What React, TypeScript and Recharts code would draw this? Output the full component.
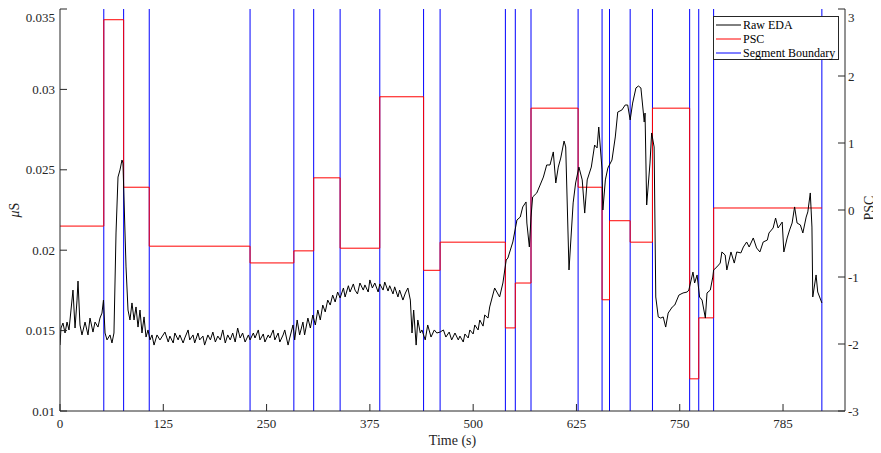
import React from 'react';
import { ComposedChart, Line, XAxis, YAxis, ReferenceLine, Legend, Label } from 'recharts';

// Raw EDA trace (time in s, conductance in µS)
const edaTime = [
  0, 1.2, 3.6, 6.1, 8.5, 10.9, 13.3, 15.7, 18.2, 20.6, 21.8, 24.2, 26.6, 30.3, 33.9, 36.3, 39.9, 42.4, 46.0, 48.4,
  50.8, 52.6, 54.5, 56.9, 60.5, 62.9, 65.3, 67.8, 70.2, 72.6, 75.0, 76.2, 77.5, 79.9, 82.3, 84.7, 87.1, 89.6, 92.0, 94.4,
  96.8, 99.2, 101.7, 104.1, 106.5, 108.9, 111.3, 113.8, 117.4, 121.0, 127, 131, 133, 137, 139, 143, 145, 149, 151, 155,
  157, 161, 163, 167, 169, 173, 175, 179, 182, 185, 188, 191, 194, 197, 200, 203, 206, 209, 212, 215,
  218, 221, 224, 228, 230, 234, 236, 240, 242, 246, 248, 252, 254, 258, 260, 264, 266, 270, 272, 276,
  278, 282, 284, 287, 290, 294, 296, 300, 303, 306, 309, 312, 315, 318, 321, 324, 327, 330, 333, 336,
  339, 343, 345, 349, 351, 355, 357, 360, 363, 367, 369, 373, 375, 378, 381, 385, 387, 391, 393, 397,
  399, 403, 405, 409, 411, 415, 418, 421, 424, 426, 428, 431, 433, 436, 438, 442, 445, 449, 453, 456,
  460, 464, 467, 471, 474, 478, 482, 484, 488, 490, 494, 496, 500, 502, 506, 508, 512, 514, 518, 520,
  526, 532, 536, 540, 542, 548, 553, 557, 560, 564, 565, 568, 570, 572, 577, 581, 585, 589, 593, 597,
  600, 603, 606, 610, 612, 616, 621, 624, 628, 632, 635, 638, 643, 647, 650, 652, 656, 657, 660, 663,
  668, 672, 675, 680, 684, 687, 690, 693, 697, 700, 703, 706, 707, 708, 710, 714, 716, 719, 721, 724,
  727, 730, 733, 736, 741, 744, 749, 754, 759, 761, 766, 768, 771, 774, 777, 781, 783, 787, 790, 791,
  795, 799, 801, 805, 807, 812, 816, 819, 824, 827, 831, 834, 839, 843, 847, 851, 856, 858, 863, 866,
  869, 874, 876, 880, 883, 886, 889, 892, 896, 899, 903, 905, 908, 910, 911, 915, 917, 922,
];
const edaValues = [
  0.01410, 0.01516, 0.01547, 0.01485, 0.01553, 0.01504, 0.01628, 0.01752, 0.01516, 0.01690, 0.01808, 0.01535, 0.01473, 0.01553, 0.01473, 0.01578, 0.01491, 0.01553, 0.01522, 0.01578,
  0.01609, 0.01690, 0.01485, 0.01442, 0.01473, 0.01423, 0.01485, 0.02107, 0.02455, 0.02499, 0.02561, 0.02542, 0.02312, 0.01896, 0.01628, 0.01566, 0.01672, 0.01566, 0.01647, 0.01522,
  0.01628, 0.01485, 0.01585, 0.01460, 0.01504, 0.01442, 0.01473, 0.01410, 0.01473, 0.01442, 0.01491, 0.01429, 0.01466, 0.01423, 0.01485, 0.01442, 0.01473, 0.01423, 0.01454, 0.01504,
  0.01442, 0.01473, 0.01423, 0.01485, 0.01442, 0.01466, 0.01410, 0.01473, 0.01442, 0.01491, 0.01429, 0.01466, 0.01442, 0.01504, 0.01423, 0.01473, 0.01442, 0.01485, 0.01429, 0.01516,
  0.01454, 0.01485, 0.01429, 0.01473, 0.01442, 0.01485, 0.01454, 0.01504, 0.01442, 0.01479, 0.01429, 0.01473, 0.01454, 0.01504, 0.01442, 0.01485, 0.01429, 0.01473, 0.01504, 0.01410,
  0.01454, 0.01535, 0.01442, 0.01566, 0.01473, 0.01553, 0.01473, 0.01578, 0.01516, 0.01597, 0.01535, 0.01628, 0.01566, 0.01659, 0.01616, 0.01690, 0.01659, 0.01721, 0.01678, 0.01740,
  0.01703, 0.01765, 0.01709, 0.01779, 0.01740, 0.01790, 0.01752, 0.01728, 0.01796, 0.01752, 0.01784, 0.01740, 0.01815, 0.01765, 0.01796, 0.01740, 0.01790, 0.01752, 0.01802, 0.01746,
  0.01779, 0.01728, 0.01772, 0.01709, 0.01752, 0.01690, 0.01734, 0.01765, 0.01690, 0.01485, 0.01628, 0.01410, 0.01566, 0.01485, 0.01504, 0.01442, 0.01535, 0.01460, 0.01504, 0.01485,
  0.01491, 0.01504, 0.01460, 0.01491, 0.01442, 0.01485, 0.01442, 0.01466, 0.01429, 0.01479, 0.01454, 0.01504, 0.01479, 0.01535, 0.01504, 0.01566, 0.01528, 0.01597, 0.01578, 0.01647,
  0.01765, 0.01709, 0.01796, 0.01939, 0.01951, 0.02051, 0.02188, 0.02206, 0.02269, 0.02300, 0.02169, 0.02020, 0.02206, 0.02331, 0.02356, 0.02405, 0.02455, 0.02530, 0.02530, 0.02611,
  0.02418, 0.02517, 0.02573, 0.02679, 0.02642, 0.01877, 0.02294, 0.02418, 0.02517, 0.02437, 0.02231, 0.02437, 0.02517, 0.02654, 0.02636, 0.02766, 0.02499, 0.02250, 0.02437, 0.02511,
  0.02561, 0.02704, 0.02859, 0.02872, 0.02903, 0.02903, 0.02810, 0.02915, 0.03009, 0.03021, 0.03009, 0.02853, 0.02797, 0.02853, 0.02281, 0.02542, 0.02729, 0.02642, 0.01709, 0.01585,
  0.01578, 0.01585, 0.01522, 0.01609, 0.01647, 0.01659, 0.01721, 0.01734, 0.01740, 0.01752, 0.01864, 0.01796, 0.01846, 0.01709, 0.01690, 0.01578, 0.01734, 0.01752, 0.01833, 0.01877,
  0.01896, 0.01920, 0.01989, 0.01970, 0.01877, 0.01989, 0.01920, 0.01989, 0.01983, 0.02020, 0.02051, 0.02020, 0.02076, 0.02014, 0.01989, 0.02051, 0.02063, 0.02107, 0.02138, 0.02200,
  0.02138, 0.02175, 0.01989, 0.02076, 0.02126, 0.02169, 0.02269, 0.02169, 0.02157, 0.02107, 0.02206, 0.02238, 0.02356, 0.02144, 0.01709, 0.01846, 0.01740, 0.01672,
];

// PSC step levels per segment (start time, level)
const pscStart = [0, 53, 77, 108, 230, 283, 307, 339, 387, 440, 460, 539, 551, 570, 627, 656, 665, 690, 717, 762, 773, 791];
const pscLevels = [-0.24, 2.84, 0.34, -0.54, -0.79, -0.61, 0.48, -0.57, 1.69, -0.9, -0.48, -1.76, -1.09, 1.52, 0.34, -1.34, -0.16, -0.48, 1.52, -2.52, -1.61, 0.03];
const pscEnd = 922;

// Segment boundaries (s)
const boundaries = [53, 77, 108, 230, 283, 307, 339, 387, 440, 460, 539, 551, 570, 627, 656, 665, 690, 717, 762, 773, 791, 922];

// Axis ticks
const xTicks = [0, 125, 250, 375, 500, 625, 750, 875];
const xTickLabels = ['0', '125', '250', '375', '500', '625', '750', '785'];
const leftTicks = [0.01, 0.015, 0.02, 0.025, 0.03, 0.035];
const rightTicks = [-3, -2, -1, 0, 1, 2, 3];

const legendLabels = ['Raw EDA', 'PSC', 'Segment Boundary'];
const legendColors = ['#000000', '#ff0000', '#0000ff'];

const edaData = edaTime.map((t, i) => ({ t, eda: edaValues[i] }));
const pscData = [
  ...pscStart.map((t, i) => ({ t, psc: pscLevels[i] })),
  { t: pscEnd, psc: pscLevels[pscLevels.length - 1] },
];

const FONT = '"Liberation Serif", "Times New Roman", serif';
const AX = '#262626';
const textStyle = { fontFamily: FONT, fontSize: 13, fill: AX };

const XTick = ({ x, y, payload }: any) => (
  <text x={x} y={y} dy="0.71em" textAnchor="middle" style={textStyle}>
    {xTickLabels[xTicks.indexOf(payload.value)] ?? String(payload.value)}
  </text>
);
const LeftTick = ({ x, y, payload }: any) => (
  <text x={x} y={y} dy="0.355em" textAnchor="end" style={textStyle}>
    {String(payload.value)}
  </text>
);
const RightTick = ({ x, y, payload }: any) => (
  <text x={x} y={y} dy="0.355em" textAnchor="start" style={textStyle}>
    {String(payload.value)}
  </text>
);

const renderLegend = () => (
  <div
    style={{
      width: 124,
      height: 42,
      border: `1px solid ${AX}`,
      background: '#fff',
      fontFamily: FONT,
      fontSize: 12,
      color: '#000',
      position: 'relative',
    }}
  >
    {legendLabels.map((lab, i) => (
      <div key={lab} style={{ position: 'absolute', left: 0, top: 1 + i * 14, height: 14, display: 'flex', alignItems: 'center' }}>
        <svg width={29} height={14} style={{ display: 'block' }}>
          <line x1={2} y1={7} x2={27} y2={7} stroke={legendColors[i]} strokeWidth={1} />
        </svg>
        <span style={{ lineHeight: '14px', whiteSpace: 'nowrap' }}>{lab}</span>
      </div>
    ))}
  </div>
);

export default function App() {
  return (
    <ComposedChart
      width={873}
      height={445}
      margin={{ top: 1, right: 6, bottom: 2, left: 0 }}
      style={{ background: '#fff', fontFamily: FONT }}
    >
      <XAxis
        xAxisId="x"
        type="number"
        dataKey="t"
        domain={[0, 950]}
        ticks={xTicks}
        tick={<XTick />}
        tickSize={-7}
        tickMargin={15}
        stroke={AX}
        height={40}
        allowDataOverflow
      >
        <Label
          content={({ viewBox }: any) => (
            <text
              x={viewBox.x + viewBox.width / 2}
              y={viewBox.y + 34}
              textAnchor="middle"
              style={{ fontFamily: FONT, fontSize: 14, fill: AX }}
            >
              Time (s)
            </text>
          )}
        />
      </XAxis>
      <XAxis
        xAxisId="top"
        orientation="top"
        type="number"
        dataKey="t"
        domain={[0, 950]}
        ticks={xTicks}
        tick={false}
        tickSize={-7}
        stroke={AX}
        height={0}
        allowDataOverflow
      />
      <YAxis
        yAxisId="left"
        type="number"
        domain={[0.01, 0.035]}
        ticks={leftTicks}
        tick={<LeftTick />}
        tickSize={-7}
        tickMargin={12}
        stroke={AX}
        width={52}
        allowDataOverflow
      >
        <Label
          content={({ viewBox }: any) => {
            const cx = 6;
            const cy = viewBox.y + viewBox.height / 2;
            return (
              <text
                x={cx}
                y={cy}
                textAnchor="middle"
                dominantBaseline="central"
                transform={`rotate(-90, ${cx}, ${cy})`}
                style={{ fontFamily: FONT, fontSize: 14, fill: AX }}
              >
                <tspan fontStyle="italic">μ</tspan>S
              </text>
            );
          }}
        />
      </YAxis>
      <YAxis
        yAxisId="right"
        orientation="right"
        type="number"
        domain={[-3, 3]}
        ticks={rightTicks}
        tick={<RightTick />}
        tickSize={-7}
        tickMargin={10}
        stroke={AX}
        width={30}
        allowDataOverflow
      >
        <Label
          content={({ viewBox }: any) => {
            const cx = 861;
            const cy = viewBox.y + viewBox.height / 2 - 2;
            return (
              <text
                x={cx}
                y={cy}
                textAnchor="middle"
                dominantBaseline="central"
                transform={`rotate(-90, ${cx}, ${cy})`}
                style={{ fontFamily: FONT, fontSize: 14, fill: AX }}
              >
                PSC
              </text>
            );
          }}
        />
      </YAxis>

      {boundaries.map((b) => (
        <ReferenceLine key={b} xAxisId="x" yAxisId="left" x={b} stroke="#0000ff" strokeWidth={1} />
      ))}

      <Line
        xAxisId="x"
        yAxisId="right"
        data={pscData}
        dataKey="psc"
        type="stepAfter"
        stroke="#ff0000"
        strokeWidth={1}
        dot={false}
        activeDot={false}
        isAnimationActive={false}
        name="PSC"
      />
      <Line
        xAxisId="x"
        yAxisId="left"
        data={edaData}
        dataKey="eda"
        type="linear"
        stroke="#000000"
        strokeWidth={1}
        dot={false}
        activeDot={false}
        isAnimationActive={false}
        name="Raw EDA"
      />

      <Legend
        layout="vertical"
        align="center"
        verticalAlign="middle"
        wrapperStyle={{ left: 705, top: 8, width: 126, height: 44 }}
        content={renderLegend}
      />
    </ComposedChart>
  );
}
